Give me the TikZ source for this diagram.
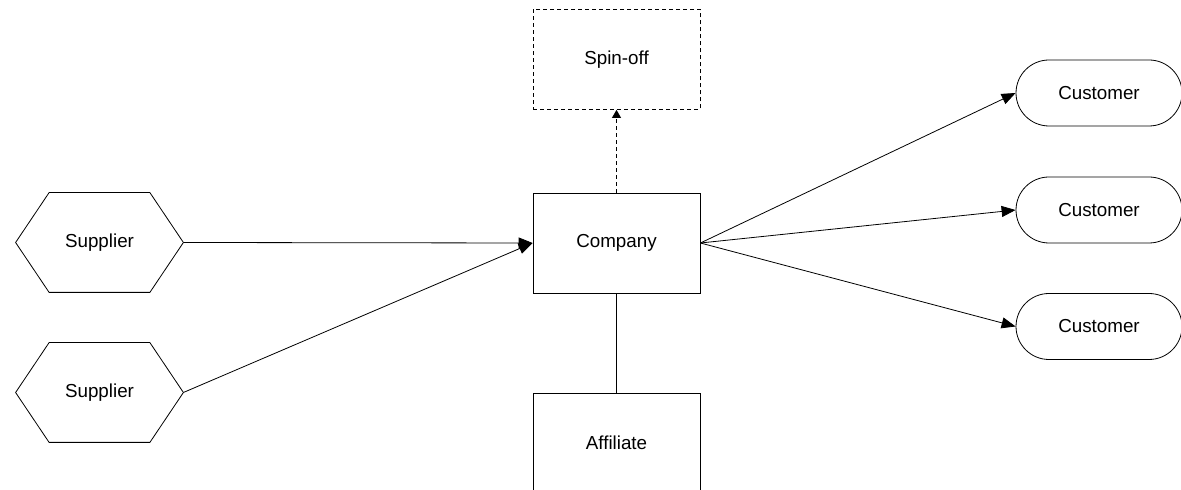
\documentclass[tikz,border=0pt]{standalone}
\usepackage{fontspec}
\setmainfont{Liberation Sans}
\usetikzlibrary{arrows.meta}

\tikzset{
  unit/.style={draw, minimum width=83.5pt, minimum height=50pt, inner sep=0pt},
  hexa/.style={minimum width=83.5pt, minimum height=49.5pt, inner sep=0pt},
  client/.style={draw, rounded corners=16.5pt, minimum width=83pt, minimum height=33pt, inner sep=0pt},
  flow/.style={-{Triangle[length=7pt,width=5.5pt]}},
  spin/.style={dash pattern=on 2pt off 1.5pt}
}

\begin{document}
\begin{tikzpicture}[x=0.5pt, y=-0.5pt, font=\fontsize{9.4}{11}\selectfont]
    \useasboundingbox (0,0) rectangle (1181,490);
    \clip (0,0) rectangle (1181,490);

    % Azienda e collegate
    \node[unit] (company) at (616.5,243) {Company};
    \node[unit, spin] (spinoff) at (616.5,59.5) {Spin-off};
    \node[unit] (affiliate) at (616.5,443) {Affiliate};

    % Fornitori
    \node[hexa] (sup1) at (99.5,242.5) {Supplier};
    \node[hexa] (sup2) at (99.5,392.5) {Supplier};
    \foreach \n in {sup1,sup2}
        \draw (\n.west) -- ([xshift=16.75pt]\n.north west) -- ([xshift=-16.75pt]\n.north east)
            -- (\n.east) -- ([xshift=-16.75pt]\n.south east) -- ([xshift=16.75pt]\n.south west) -- cycle;

    % Clienti
    \node[client] (cust1) at (1099,93) {Customer};
    \node[client] (cust2) at (1099,210) {Customer};
    \node[client] (cust3) at (1099,326.5) {Customer};

    % Collegamenti
    \draw[flow] (sup1.east) -- (company.west);
    \draw[flow] (sup2.east) -- (company.west);
    \draw[flow] (company.east) -- (cust1.west);
    \draw[flow] (company.east) -- (cust2.west);
    \draw[flow] (company.east) -- (cust3.west);
    \draw[spin, -{Triangle[length=4pt,width=4.5pt]}] (company.north) -- (spinoff.south);
    \draw (company.south) -- (affiliate.north);
\end{tikzpicture}
\end{document}
